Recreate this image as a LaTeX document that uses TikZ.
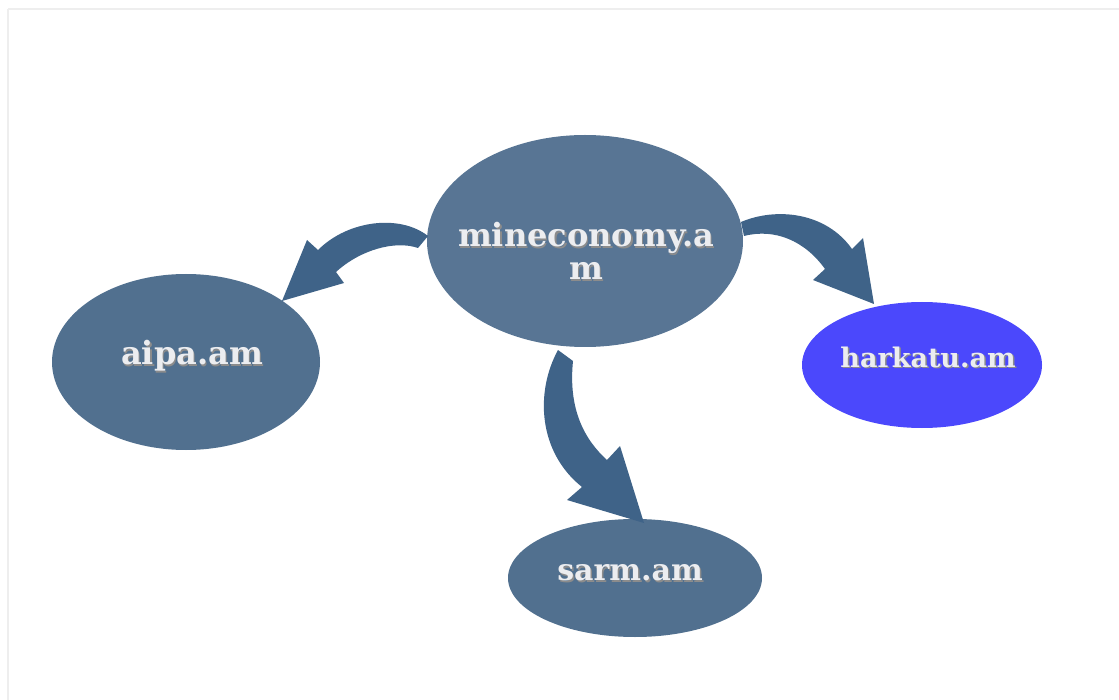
\documentclass[tikz,border=0pt]{standalone}
\usepackage{fontspec}
\setmainfont{DejaVu Serif}
\usetikzlibrary{shapes.geometric}
\definecolor{nodeblue}{HTML}{587594}
\definecolor{nodeblue2}{HTML}{51708F}
\definecolor{arrowblue}{HTML}{3F6388}
\definecolor{brightblue}{HTML}{4B48FC}
\definecolor{txt}{HTML}{ECEDF0}
\definecolor{frame}{HTML}{EEEEEE}
\tikzset{
  bubble/.style={ellipse, inner sep=0pt, draw=none},
  lbl/.style={font=\bfseries\fontsize{#1}{33}\selectfont, text=txt, align=center, inner sep=0pt},
  lbl/.default=32,
  shadowlbl/.style={lbl=#1, text=black!45},
  shadowlbl/.default=32,
  blockarrow/.style={fill=arrowblue, draw=none}
}
\begin{document}
\begin{tikzpicture}[x=1pt,y=-1pt]
\useasboundingbox (0,0) rectangle (1119,700);
\draw[frame, line width=2.5pt] (8,9) -- (1130,9);
\draw[frame, line width=2.5pt] (8,9) -- (8,710);

\node[bubble, fill=nodeblue, minimum width=316pt, minimum height=212pt] (mine) at (585,241) {};
\node[bubble, fill=nodeblue2, minimum width=268pt, minimum height=176pt] (aipa) at (186,362) {};
\node[bubble, fill=brightblue, minimum width=240pt, minimum height=126pt] (hark) at (922,365) {};
\node[bubble, fill=nodeblue2, minimum width=254pt, minimum height=118pt] (sarm) at (635,578) {};

% block arrows
\fill[blockarrow] (428,236) .. controls (400,214) and (348,220) .. (318,250)
  -- (307,240) -- (282,301) -- (344,283) -- (336,272)
  .. controls (360,250) and (395,240) .. (418,248) -- cycle;
\fill[blockarrow] (741,222) .. controls (776,207) and (826,212) .. (852,249)
  -- (863,238) -- (874,304) -- (813,280) -- (825,269)
  .. controls (805,241) and (775,228) .. (744,236) -- cycle;
\fill[blockarrow] (558,350) .. controls (535,392) and (538,452) .. (582,487)
  -- (567,500) -- (644,523) -- (620,446) -- (607,460)
  .. controls (585,440) and (568,410) .. (573,361) -- cycle;

% labels
\node[shadowlbl] at (587.5,252.5) {mineconomy.a\\m};
\node[lbl] (minet) at (586,251) {mineconomy.a\\m};
\node[shadowlbl] at (193.5,357.5) {aipa.am};
\node[lbl] (aipat) at (192,356) {aipa.am};
\node[shadowlbl=27] at (929.5,358.5) {harkatu.am};
\node[lbl=27] (harkt) at (928,357) {harkatu.am};
\node[shadowlbl=30] at (631.5,574.5) {sarm.am};
\node[lbl=30] (sarmt) at (630,573) {sarm.am};
\end{tikzpicture}
\end{document}
